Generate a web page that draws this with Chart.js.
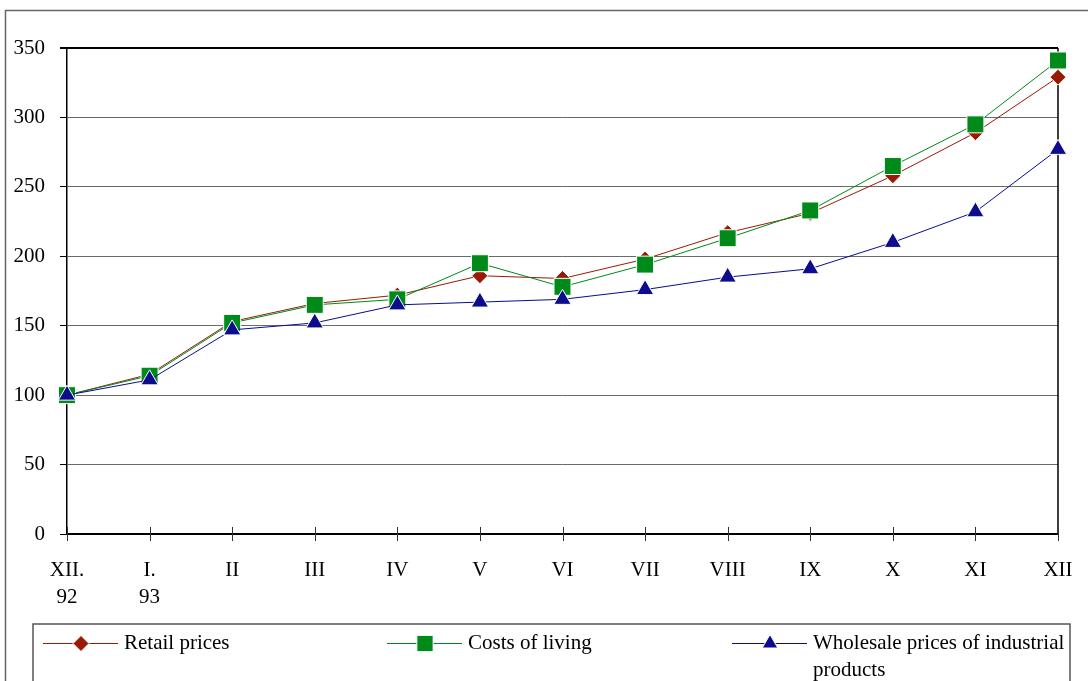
<!DOCTYPE html>
<html>
<head>
<meta charset="utf-8">
<script src="https://cdn.jsdelivr.net/npm/chart.js@4/dist/chart.umd.min.js"></script>
<style>
  html, body { margin: 0; padding: 0; background: #fff; }
  #wrap { width: 1088px; height: 681px; }
</style>
</head>
<body>
<div id="wrap"><canvas id="chart" width="1088" height="681"></canvas></div>
<script>
// ===== Data =====
const months = [['XII.', '92'], ['I.', '93'], 'II', 'III', 'IV', 'V', 'VI', 'VII', 'VIII', 'IX', 'X', 'XI', 'XII'];
const retailPrices = [100, 115, 153, 166, 172, 186, 184, 198, 217, 231, 258, 289, 329];
const costsOfLiving = [100, 114, 152, 165, 169, 195, 178, 194, 213, 233, 265, 295, 341];
const wholesalePrices = [100, 111, 147, 152, 165, 167, 169, 176, 185, 191, 210, 232, 277];
const yTicks = [0, 50, 100, 150, 200, 250, 300, 350];

const FONT = "'Liberation Serif', 'DejaVu Serif', serif";

function drawMarker(ctx, style, r, x, y, color) {
  ctx.save();
  ctx.fillStyle = color;
  ctx.strokeStyle = '#fff';
  ctx.lineWidth = 1;
  Chart.helpers.drawPoint(ctx, { pointStyle: style, radius: r, borderWidth: 1 }, x, y);
  ctx.restore();
}

// frame, plot border, crossing x ticks and the boxed legend
const decorations = {
  id: 'decorations',
  beforeDraw(chart) {
    const ctx = chart.ctx;
    ctx.save();
    ctx.fillStyle = '#fff';
    ctx.fillRect(0, 0, chart.width, chart.height);
    ctx.strokeStyle = '#666';
    ctx.lineWidth = 1.5;
    ctx.beginPath();
    ctx.moveTo(chart.width + 2, 10.5);
    ctx.lineTo(5.5, 10.5);
    ctx.lineTo(5.5, chart.height + 2);
    ctx.stroke();
    ctx.restore();
  },
  beforeDatasetsDraw(chart) {
    const { ctx, chartArea } = chart;
    const x = chart.scales.x;
    ctx.save();
    ctx.strokeStyle = '#000';
    ctx.lineWidth = 2;
    ctx.beginPath();
    ctx.moveTo(chartArea.left, chartArea.top);
    ctx.lineTo(chartArea.right, chartArea.top);
    ctx.stroke();
    ctx.lineWidth = 1.5;
    ctx.beginPath();
    ctx.moveTo(chartArea.right, chartArea.top);
    ctx.lineTo(chartArea.right, chartArea.bottom);
    ctx.stroke();
    // x ticks cross the axis
    ctx.lineWidth = 1;
    ctx.strokeStyle = '#333';
    months.forEach((m, i) => {
      const px = Math.round(x.getPixelForValue(i)) + 0.5;
      ctx.beginPath();
      ctx.moveTo(px, chartArea.bottom - 7);
      ctx.lineTo(px, chartArea.bottom + 7);
      ctx.stroke();
    });
    ctx.restore();
  },
  afterDraw(chart) {
    const ctx = chart.ctx;
    ctx.save();
    // legend box
    ctx.strokeStyle = '#555';
    ctx.lineWidth = 1.5;
    ctx.beginPath();
    ctx.moveTo(33, chart.height + 2);
    ctx.lineTo(33, 624);
    ctx.lineTo(1070, 624);
    ctx.lineTo(1070, chart.height + 2);
    ctx.stroke();

    ctx.font = '21px ' + FONT;
    ctx.textBaseline = 'middle';
    ctx.textAlign = 'left';
    const starts = [43, 387, 732];
    chart.data.datasets.forEach((ds, i) => {
      const x0 = starts[i];
      const y = 643.5;
      ctx.strokeStyle = ds.borderColor;
      ctx.lineWidth = 1;
      ctx.beginPath();
      ctx.moveTo(x0, y);
      ctx.lineTo(x0 + 75, y);
      ctx.stroke();
      drawMarker(ctx, ds.pointStyle, ds.legendRadius, x0 + 38, y, ds.backgroundColor);
      // wrapped text
      ctx.fillStyle = '#000';
      const words = ds.label.split(' ');
      const maxW = 1066 - (x0 + 81);
      let line = '';
      let ly = y;
      words.forEach(w => {
        const test = line ? line + ' ' + w : w;
        if (ctx.measureText(test).width > maxW && line) {
          ctx.fillText(line, x0 + 81, ly);
          line = w;
          ly += 27;
        } else {
          line = test;
        }
      });
      ctx.fillText(line, x0 + 81, ly);
    });
    ctx.restore();
  }
};

const ctx = document.getElementById('chart').getContext('2d');
new Chart(ctx, {
  type: 'line',
  data: {
    labels: months,
    datasets: [
      {
        label: 'Retail prices',
        data: retailPrices,
        borderColor: '#9a1a06',
        backgroundColor: '#9a1a06',
        pointBorderColor: '#fff',
        pointStyle: 'rectRot',
        pointRadius: 8,
        legendRadius: 8,
        borderWidth: 1,
        pointBorderWidth: 1,
        order: 2,
      },
      {
        label: 'Costs of living',
        data: costsOfLiving,
        borderColor: '#008a1a',
        backgroundColor: '#008a1a',
        pointBorderColor: '#fff',
        pointStyle: 'rect',
        pointRadius: 12,
        legendRadius: 11.5,
        borderWidth: 1,
        pointBorderWidth: 1,
        order: 1,
      },
      {
        label: 'Wholesale prices of industrial products',
        data: wholesalePrices,
        borderColor: '#0c0c8c',
        backgroundColor: '#0c0c8c',
        pointBorderColor: '#fff',
        pointStyle: 'triangle',
        pointRadius: 10,
        legendRadius: 9,
        borderWidth: 1,
        pointBorderWidth: 1,
        order: 0,
      },
    ],
  },
  options: {
    responsive: false,
    animation: false,
    layout: { padding: { top: 48, right: 30, bottom: 0, left: 0 } },
    plugins: {
      legend: { display: false },
      tooltip: { enabled: false },
    },
    scales: {
      x: {
        offset: false,
        afterFit(scale) {
          scale.height = 147;
          scale.paddingLeft = 0;
          scale.paddingRight = 0;
        },
        grid: { drawOnChartArea: false, drawTicks: false, color: 'rgba(0,0,0,0)' },
        border: { display: true, color: '#000', width: 2 },
        ticks: {
          color: '#000',
          font: { family: FONT, size: 21, lineHeight: 1.3 },
          padding: 23,
          maxRotation: 0,
          autoSkip: false,
        },
      },
      y: {
        min: 0,
        max: 350,
        afterFit(scale) { scale.width = 67; },
        afterBuildTicks(scale) { scale.ticks = yTicks.map(v => ({ value: v })); },
        grid: {
          color: c => (c.tick && c.tick.value === 350 ? '#000' : '#6a6a6a'),
          lineWidth: c => (c.tick && c.tick.value === 350 ? 2 : 1),
          tickColor: '#000',
          tickLength: 7,
        },
        border: { display: true, color: '#000', width: 1.5 },
        ticks: {
          color: '#000',
          font: { family: FONT, size: 21 },
          padding: 15,
        },
      },
    },
  },
  plugins: [decorations],
});
</script>
</body>
</html>
